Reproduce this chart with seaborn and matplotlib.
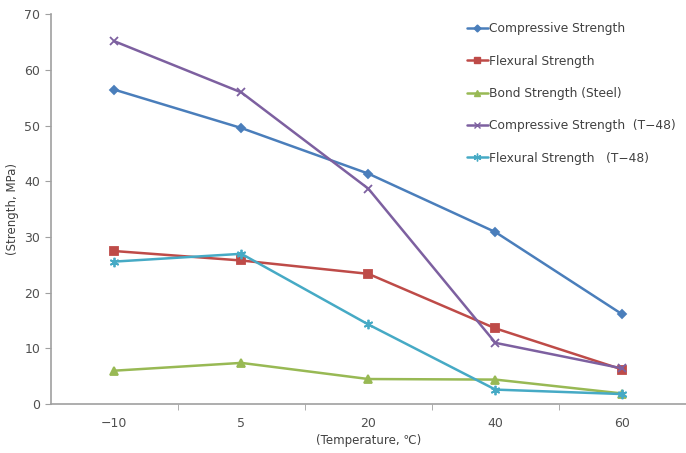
import pandas as pd
import matplotlib.pyplot as plt
import seaborn as sns
from matplotlib.ticker import FixedLocator
from matplotlib.lines import Line2D

# data
temps = ['-10', '5', '20', '40', '60']
compressive = [56.5, 49.6, 41.4, 30.9, 16.1]
flexural = [27.5, 25.8, 23.4, 13.6, 6.2]
bond = [6.0, 7.4, 4.5, 4.4, 1.9]
compressive_t48 = [65.2, 56.0, 38.7, 11.0, 6.4]
flexural_t48 = [25.6, 27.0, 14.3, 2.6, 1.8]

series_names = ['Compressive Strength', 'Flexural Strength', 'Bond Strength (Steel)',
                'Compressive Strength  (T\u221248)', 'Flexural Strength   (T\u221248)']
colors = ['#4A7EBB', '#BE4B48', '#98B954', '#7D60A0', '#46AAC5']
markers = ['D', 's', '^', 'x', (6, 2, 0)]
sizes = [5, 7, 7, 7, 8]

sns.set_style('white')
plt.rcParams['font.family'] = ['DejaVu Sans', 'Noto Sans CJK KR']

fig = plt.figure(figsize=(6.86, 4.53), dpi=100)
ax = fig.add_axes([0.074, 0.108, 0.926, 0.86])

all_vals = [compressive, flexural, bond, compressive_t48, flexural_t48]
for name, vals, c, m, ms in zip(series_names, all_vals, colors, markers, sizes):
    d = pd.DataFrame({'temp': temps, 'value': vals})
    sns.lineplot(data=d, x='temp', y='value', color=c, marker=m, markersize=ms * 0.85,
                 markeredgecolor=c, markerfacecolor=c, markeredgewidth=1.3,
                 linewidth=1.8, ax=ax, label=name)

ax.set_xlim(-0.5, 4.5)
ax.set_ylim(0, 70)
ax.set_yticks(range(0, 71, 10))
ax.set_xticks(range(len(temps)))
ax.set_xticklabels(['\u221210', '5', '20', '40', '60'])
ax.xaxis.set_minor_locator(FixedLocator([0.5, 1.5, 2.5, 3.5]))
ax.tick_params(axis='x', which='major', length=0, pad=9, labelsize=9, labelcolor='#505050')
ax.tick_params(axis='x', which='minor', length=4, color='#A0A0A0', direction='out', bottom=True)
ax.tick_params(axis='y', length=4, color='#A0A0A0', direction='out', labelsize=9,
               labelcolor='#505050', left=True)

for s in ['top', 'right']:
    ax.spines[s].set_visible(False)
for s in ['left', 'bottom']:
    ax.spines[s].set_color('#A0A0A0')
    ax.spines[s].set_linewidth(1.2)

ax.set_xlabel('(Temperature, \u2103)', fontsize=8.5, color='#404040', labelpad=3)
ax.set_ylabel('(Strength, MPa)', fontsize=8.5, color='#404040', labelpad=4)

# legend
handles = [Line2D([], [], color=c, marker=m, markersize=ms * 0.7, linewidth=1.8,
                  markerfacecolor=c, markeredgecolor=c)
           for c, m, ms in zip(colors, markers, sizes)]
ax.legend(handles, series_names, loc='upper left', bbox_to_anchor=(0.638, 1.008),
          frameon=False, fontsize=8.8, labelcolor='#404040', labelspacing=1.58,
          handlelength=1.7, handletextpad=0.1)

fig.savefig('out.png', dpi=100)
